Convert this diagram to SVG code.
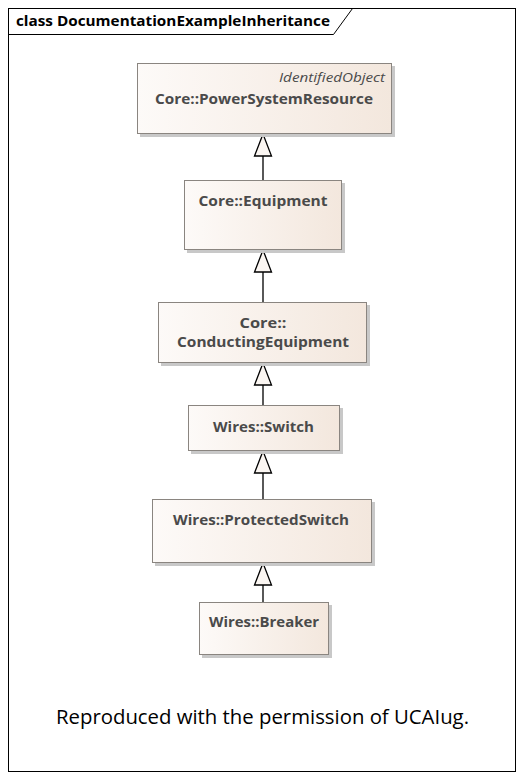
<svg xmlns="http://www.w3.org/2000/svg" width="528" height="781" viewBox="0 0 528 781">
<style>
.box{fill:url(#g);stroke:#8a8580;stroke-width:1}
.sh{fill:#c8c8c8}
.nm{font-family:"Open Sans","DejaVu Sans",sans-serif;font-weight:700;font-size:14px;fill:#4a4a4a;text-anchor:middle}
.st{font-family:"Open Sans","DejaVu Sans",sans-serif;font-style:italic;font-size:12px;fill:#4a4a4a;text-anchor:end}
.ln{stroke:#000;stroke-width:1.3;fill:none}
.tri{fill:#fbf6f2;stroke:#000;stroke-width:1.3}
</style>
<defs>
<linearGradient id="g" x1="0" y1="0" x2="1" y2="0">
<stop offset="0" stop-color="#fdfaf8"/>
<stop offset="1" stop-color="#f3e7dd"/>
</linearGradient>
</defs>
<rect x="0" y="0" width="528" height="781" fill="#fff"/>
<g id="frame">
<rect x="8.5" y="8.5" width="507" height="763" fill="none" stroke="#000" stroke-width="1"/>
<path d="M8.5 34.5 H333.5 L352.5 8.5" fill="none" stroke="#000" stroke-width="1"/>
<text x="16" y="26" font-family="'Open Sans','DejaVu Sans',sans-serif" font-weight="700" font-size="15" fill="#000" textLength="314" lengthAdjust="spacingAndGlyphs">class DocumentationExampleInheritance</text>
</g>
<g id="connectors">
<path class="ln" d="M263 156V180M263 272V302M263 385V405M263 473V499M263 585V602"/>
<path class="tri" d="M263 134L254.5 156H271.5Z"/>
<path class="tri" d="M263 250L254.5 272H271.5Z"/>
<path class="tri" d="M263 363L254.5 385H271.5Z"/>
<path class="tri" d="M263 451L254.5 473H271.5Z"/>
<path class="tri" d="M263 563L254.5 585H271.5Z"/>
</g>
<g id="PowerSystemResource">
<rect class="sh" x="140" y="66" width="255" height="71"/>
<rect class="box" x="137.5" y="63.5" width="254" height="70"/>
<text class="st" x="385" y="82" textLength="106" lengthAdjust="spacingAndGlyphs">IdentifiedObject</text>
<text class="nm" x="264" y="104" textLength="218" lengthAdjust="spacingAndGlyphs">Core::PowerSystemResource</text>
</g>
<g id="Equipment">
<rect class="sh" x="187" y="183" width="158" height="70"/>
<rect class="box" x="184.5" y="180.5" width="157" height="69"/>
<text class="nm" x="263" y="206" textLength="129" lengthAdjust="spacingAndGlyphs">Core::Equipment</text>
</g>
<g id="ConductingEquipment">
<rect class="sh" x="161" y="305" width="209" height="61"/>
<rect class="box" x="158.5" y="302.5" width="208" height="60"/>
<text class="nm" x="263" y="328" textLength="47" lengthAdjust="spacingAndGlyphs">Core::</text>
<text class="nm" x="263" y="347" textLength="172" lengthAdjust="spacingAndGlyphs">ConductingEquipment</text>
</g>
<g id="Switch">
<rect class="sh" x="191" y="408" width="152" height="46"/>
<rect class="box" x="188.5" y="405.5" width="151" height="45"/>
<text class="nm" x="263.5" y="432" textLength="101" lengthAdjust="spacingAndGlyphs">Wires::Switch</text>
</g>
<g id="ProtectedSwitch">
<rect class="sh" x="155" y="502" width="220" height="64"/>
<rect class="box" x="152.5" y="499.5" width="219" height="63"/>
<text class="nm" x="261" y="525" textLength="176" lengthAdjust="spacingAndGlyphs">Wires::ProtectedSwitch</text>
</g>
<g id="Breaker">
<rect class="sh" x="202" y="605" width="130" height="53"/>
<rect class="box" x="199.5" y="602.5" width="129" height="52"/>
<text class="nm" x="264" y="627" textLength="110" lengthAdjust="spacingAndGlyphs">Wires::Breaker</text>
</g>
<g id="note">
<text x="56" y="724" font-family="'Open Sans','DejaVu Sans',sans-serif" font-size="20" fill="#000" textLength="413" lengthAdjust="spacingAndGlyphs">Reproduced with the permission of UCAIug.</text>
</g>
</svg>
